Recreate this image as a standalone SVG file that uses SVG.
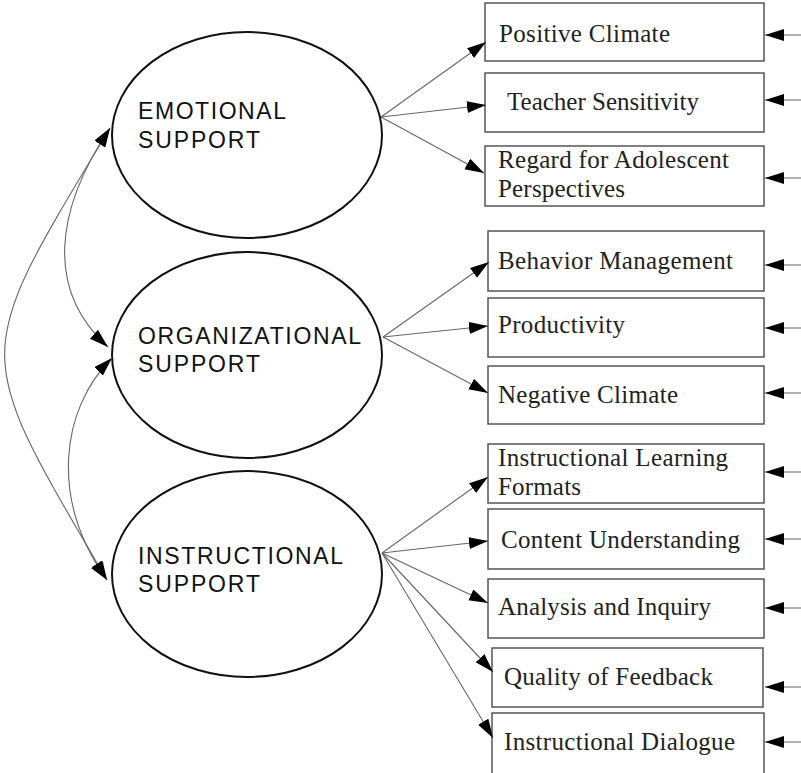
<svg xmlns="http://www.w3.org/2000/svg" width="801" height="773" viewBox="0 0 801 773">
<style>
.lat{fill:#fff;stroke:#111;stroke-width:2}
.lt{font-family:"Liberation Sans",Arial,sans-serif;font-size:23px;fill:#111}
.box{fill:#fff;stroke:#555;stroke-width:1.5}
.bt{font-family:"Liberation Serif","Times New Roman",serif;font-size:25px;fill:#222}
.c{fill:none;stroke:#666;stroke-width:1.1}
</style>
<defs>
<marker id="ah" markerUnits="userSpaceOnUse" markerWidth="20" markerHeight="14" refX="19" refY="6" orient="auto-start-reverse">
<path d="M0,0 L19,6 L0,12 z" fill="#000"/>
</marker>
</defs>
<g id="emotional">
<ellipse class="lat" cx="247" cy="135" rx="135" ry="103"/>
<text class="lt" x="138" y="119" textLength="148">EMOTIONAL</text>
<text class="lt" x="138" y="148" textLength="122">SUPPORT</text>
</g>
<g id="organizational">
<ellipse class="lat" cx="247" cy="355" rx="135" ry="103"/>
<text class="lt" x="138" y="344" textLength="223">ORGANIZATIONAL</text>
<text class="lt" x="138" y="372" textLength="122">SUPPORT</text>
</g>
<g id="instructional">
<ellipse class="lat" cx="247" cy="574" rx="135" ry="103"/>
<text class="lt" x="138" y="564" textLength="205">INSTRUCTIONAL</text>
<text class="lt" x="138" y="592" textLength="122">SUPPORT</text>
</g>
<g id="positive-climate"><rect class="box" x="485" y="3" width="279" height="58"/><text class="bt" x="499" y="42" textLength="171">Positive Climate</text></g>
<g id="teacher-sensitivity"><rect class="box" x="485" y="73" width="279" height="59"/><text class="bt" x="507" y="110" textLength="192">Teacher Sensitivity</text></g>
<g id="regard"><rect class="box" x="485" y="146" width="279" height="60"/><text class="bt" x="498" y="168" textLength="231">Regard for Adolescent</text><text class="bt" x="498" y="197" textLength="127">Perspectives</text></g>
<g id="behavior-management"><rect class="box" x="488" y="231" width="276" height="60"/><text class="bt" x="498" y="269" textLength="235">Behavior Management</text></g>
<g id="productivity"><rect class="box" x="488" y="298" width="276" height="59"/><text class="bt" x="498" y="333" textLength="127">Productivity</text></g>
<g id="negative-climate"><rect class="box" x="488" y="366" width="276" height="58"/><text class="bt" x="498" y="403" textLength="180">Negative Climate</text></g>
<g id="ilf"><rect class="box" x="488" y="444" width="276" height="59"/><text class="bt" x="498" y="466" textLength="230">Instructional Learning</text><text class="bt" x="498" y="495" textLength="83">Formats</text></g>
<g id="content-understanding"><rect class="box" x="488" y="509" width="276" height="60"/><text class="bt" x="501" y="548" textLength="239">Content Understanding</text></g>
<g id="analysis-inquiry"><rect class="box" x="488" y="579" width="276" height="59"/><text class="bt" x="498" y="615" textLength="213">Analysis and Inquiry</text></g>
<g id="quality-feedback"><rect class="box" x="492" y="648" width="271" height="59"/><text class="bt" x="504" y="685" textLength="209">Quality of Feedback</text></g>
<g id="instructional-dialogue"><rect class="box" x="492" y="713" width="272" height="70"/><text class="bt" x="504" y="750" textLength="231">Instructional Dialogue</text></g>
<g id="connectors">
<path class="c" d="M110,128 C-30,361 -30,346 107,580" marker-start="url(#ah)" marker-end="url(#ah)"/>
<path class="c" d="M110,128 C55,210 45,290 108,347" marker-start="url(#ah)" marker-end="url(#ah)"/>
<path class="c" d="M112,358 C60,410 50,500 107,580" marker-start="url(#ah)" marker-end="url(#ah)"/>
<line class="c" x1="381" y1="117" x2="486" y2="42" marker-end="url(#ah)"/>
<line class="c" x1="381" y1="117" x2="486" y2="105" marker-end="url(#ah)"/>
<line class="c" x1="381" y1="117" x2="484" y2="173" marker-end="url(#ah)"/>
<line class="c" x1="383" y1="337" x2="489" y2="262" marker-end="url(#ah)"/>
<line class="c" x1="383" y1="337" x2="488" y2="326" marker-end="url(#ah)"/>
<line class="c" x1="383" y1="337" x2="488" y2="393" marker-end="url(#ah)"/>
<line class="c" x1="382" y1="553" x2="488" y2="477" marker-end="url(#ah)"/>
<line class="c" x1="382" y1="553" x2="488" y2="541" marker-end="url(#ah)"/>
<line class="c" x1="382" y1="553" x2="488" y2="603" marker-end="url(#ah)"/>
<line class="c" x1="382" y1="553" x2="493" y2="672" marker-end="url(#ah)"/>
<line class="c" x1="382" y1="553" x2="493" y2="738" marker-end="url(#ah)"/>
<line class="c" x1="801" y1="35" x2="765" y2="35" marker-end="url(#ah)"/>
<line class="c" x1="801" y1="100" x2="765" y2="100" marker-end="url(#ah)"/>
<line class="c" x1="801" y1="178" x2="765" y2="178" marker-end="url(#ah)"/>
<line class="c" x1="801" y1="265" x2="765" y2="265" marker-end="url(#ah)"/>
<line class="c" x1="801" y1="328" x2="765" y2="328" marker-end="url(#ah)"/>
<line class="c" x1="801" y1="393" x2="765" y2="393" marker-end="url(#ah)"/>
<line class="c" x1="801" y1="472" x2="765" y2="472" marker-end="url(#ah)"/>
<line class="c" x1="801" y1="539" x2="765" y2="539" marker-end="url(#ah)"/>
<line class="c" x1="801" y1="608" x2="765" y2="608" marker-end="url(#ah)"/>
<line class="c" x1="801" y1="687" x2="765" y2="687" marker-end="url(#ah)"/>
<line class="c" x1="801" y1="742" x2="765" y2="742" marker-end="url(#ah)"/>
</g>
</svg>
